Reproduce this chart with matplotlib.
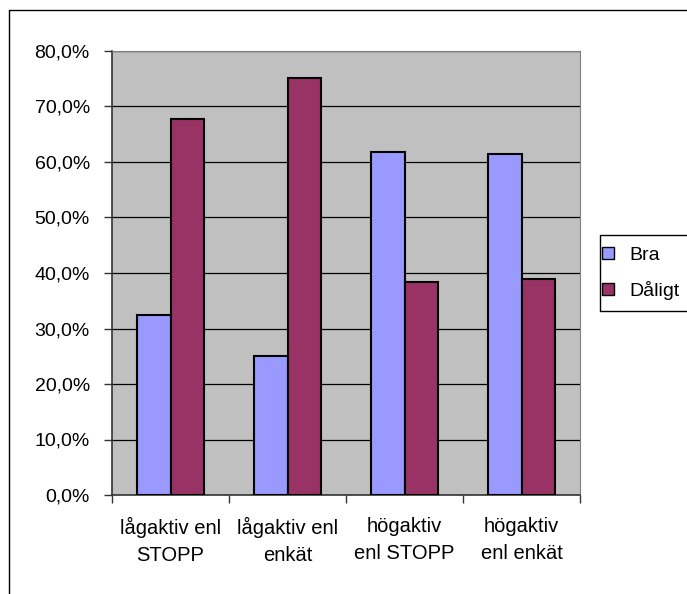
import numpy as np
import matplotlib.pyplot as plt
from matplotlib.lines import Line2D
from matplotlib.ticker import FuncFormatter

plt.rcParams['font.family'] = ['Liberation Sans', 'DejaVu Sans']

categories = ["lågaktiv enl\nSTOPP", "lågaktiv enl\nenkät", "högaktiv\nenl STOPP", "högaktiv\nenl enkät"]
bra = [32.5, 25.0, 61.8, 61.4]
daligt = [67.8, 75.2, 38.3, 39.0]
series_names = ["Bra", "Dåligt"]
colors = ["#9999FF", "#993366"]

W, H = 687, 594
fig = plt.figure(figsize=(W / 100, H / 100), dpi=100)


def frame_line(xs, ys):
    # xs, ys in pixels from the top-left corner
    fig.add_artist(Line2D([v / W for v in xs], [1 - v / H for v in ys],
                          transform=fig.transFigure, color="black", lw=1.0))


# outer chart frame, only the top and left sides fall inside the image
frame_line([9, 9, W + 5], [H + 5, 10, 10])
# legend box, cut by the right edge
frame_line([W + 5, 600, 600, W + 5], [235, 235, 311, 311])

ax = fig.add_axes([112 / W, (H - 495) / H, 468 / W, (495 - 51) / H])
ax.set_facecolor("#C0C0C0")

x = np.arange(len(categories))
width = 1 / 3.5
b1 = ax.bar(x - width / 2, bra, width, color=colors[0], edgecolor="black", lw=1.5, zorder=3)
b2 = ax.bar(x + width / 2, daligt, width, color=colors[1], edgecolor="black", lw=1.5, zorder=3)

ax.set_xlim(-0.5, len(categories) - 0.5)
ax.set_ylim(0, 80)
ax.set_yticks(np.arange(0, 81, 10))
ax.yaxis.set_major_formatter(FuncFormatter(lambda v, p: f"{v:.1f}%".replace(".", ",")))
ax.grid(axis="y", color="black", lw=0.9, zorder=1)

# category labels centred, tick marks at the group boundaries
ax.set_xticks(x)
ax.set_xticklabels(categories, linespacing=1.5)
ax.set_xticks(np.arange(-0.5, len(categories), 1), minor=True)
ax.tick_params(axis="x", which="major", length=0, pad=16, labelsize=14.5)
ax.tick_params(axis="x", which="minor", length=6, width=1, color="#333333")
ax.tick_params(axis="y", length=6, width=1, color="#333333", pad=10, labelsize=14)

for side in ["top", "right"]:
    ax.spines[side].set_color("#808080")
for side in ["left", "bottom"]:
    ax.spines[side].set_color("#333333")
    ax.spines[side].set_linewidth(1.2)

leg = fig.legend([b1, b2], series_names, loc="upper left",
                 bbox_to_anchor=(602 / W, (H - 247) / H), fontsize=14,
                 frameon=False,
                 handlelength=0.6, handleheight=0.6, handletextpad=0.8,
                 labelspacing=0.85, borderpad=0, borderaxespad=0)
for h in leg.legend_handles:
    h.set_linewidth(1.0)

fig.savefig("out.png", dpi=100)
